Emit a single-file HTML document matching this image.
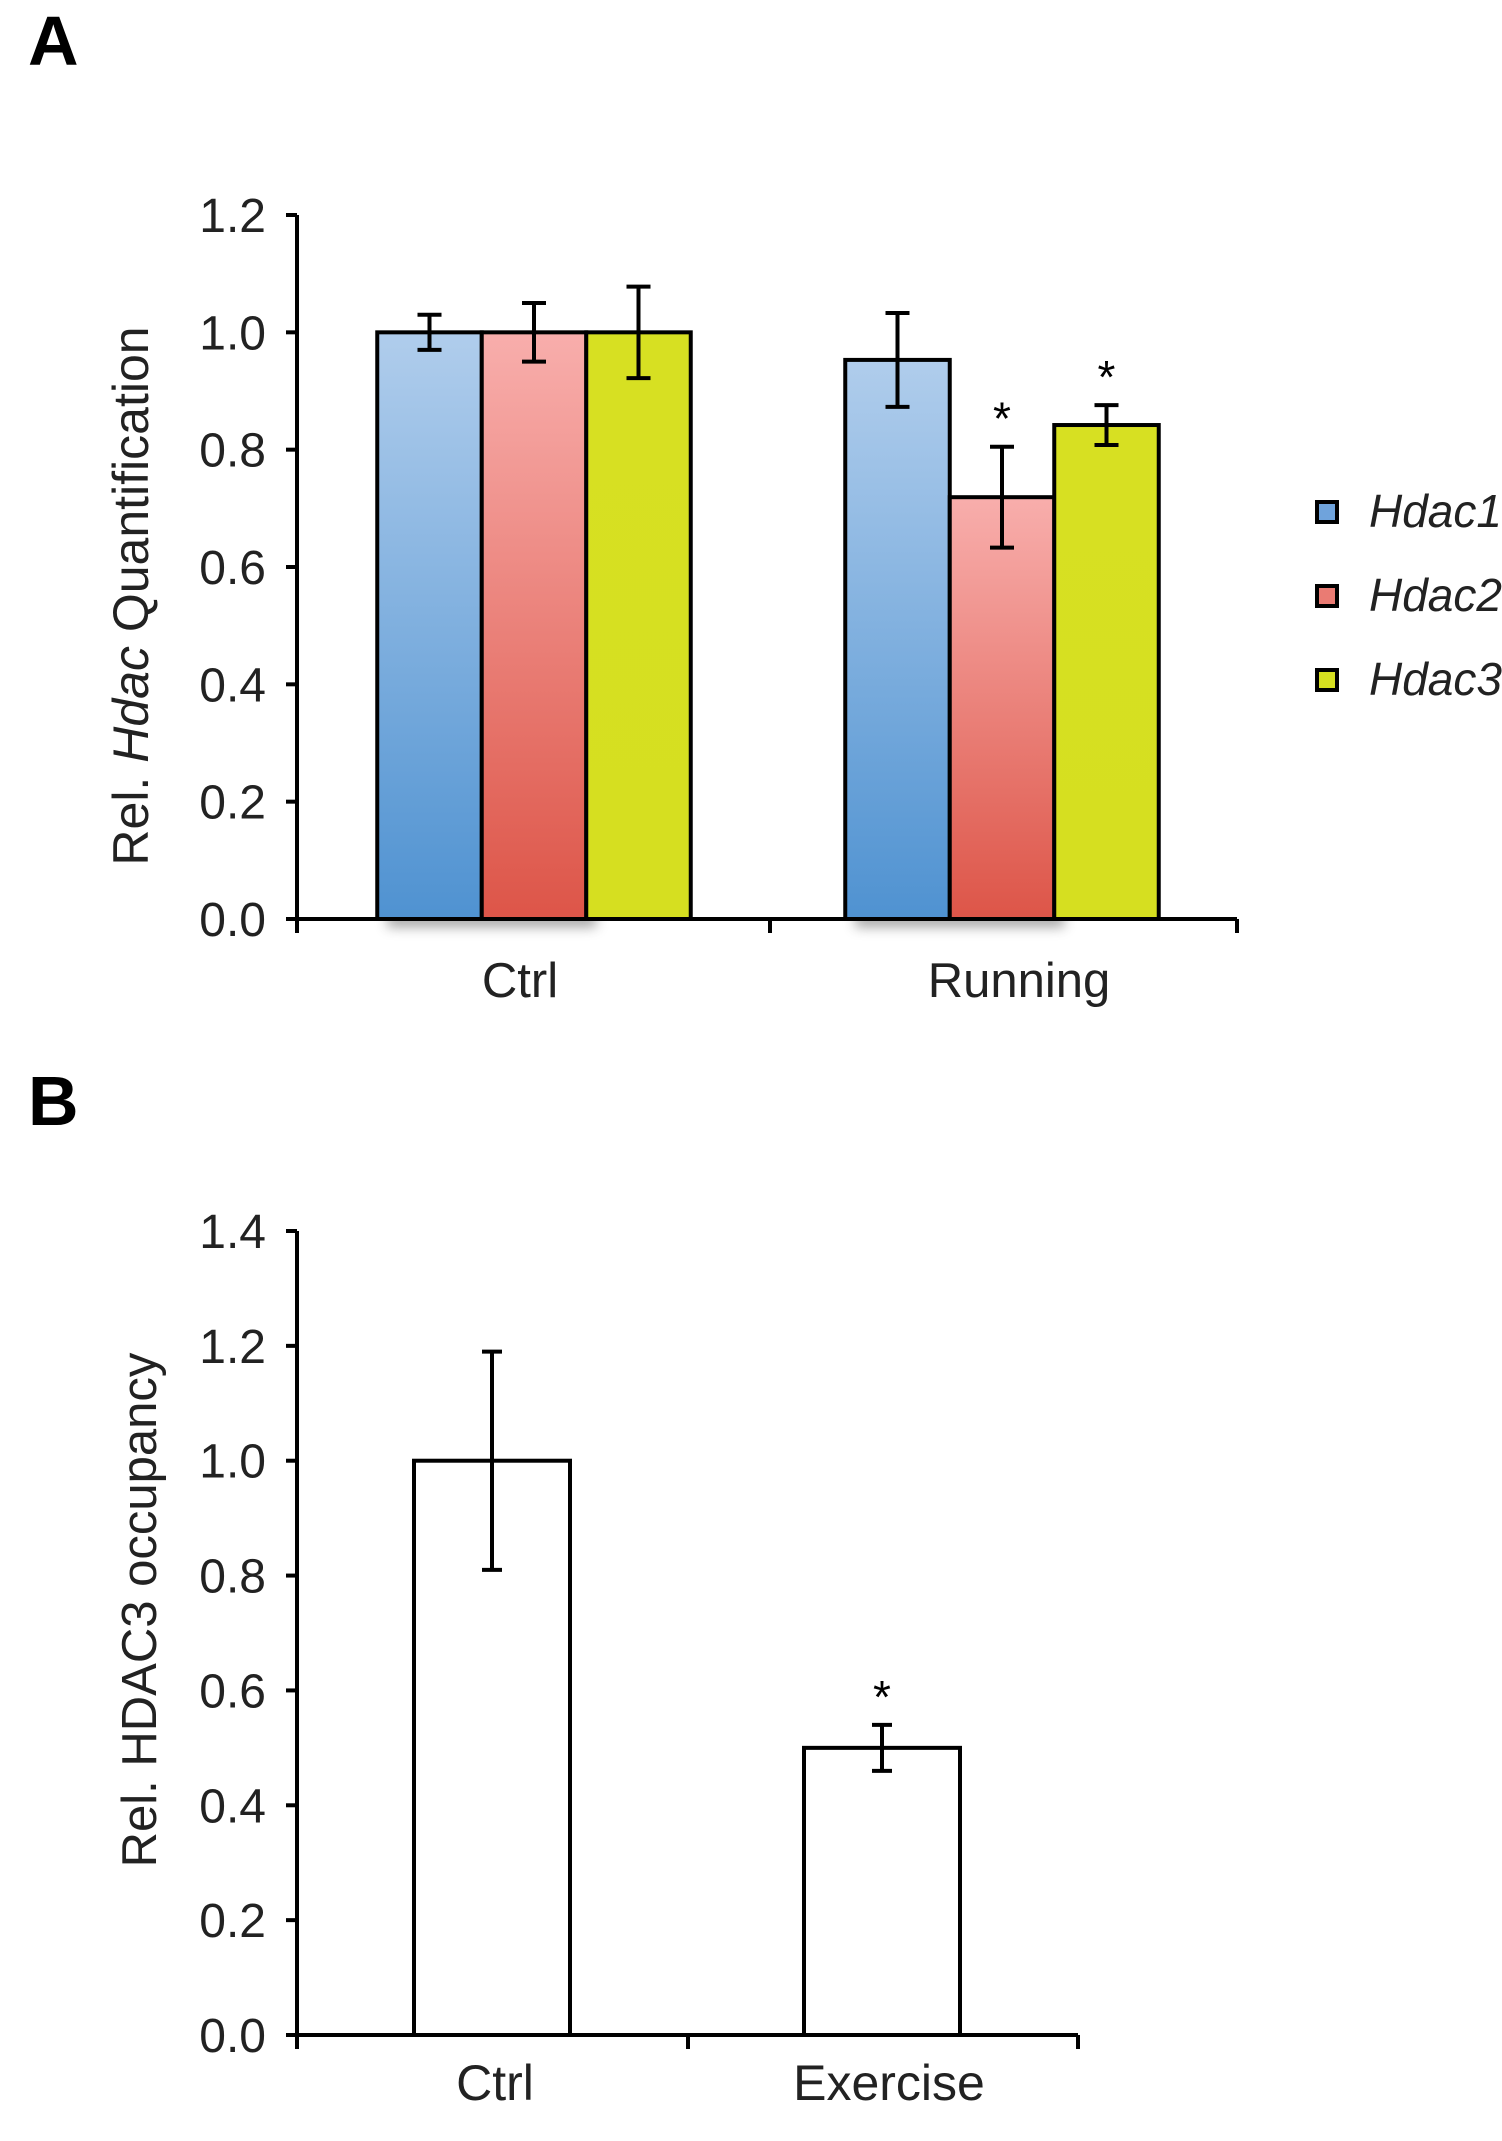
<!DOCTYPE html>
<html><head><meta charset="utf-8"><style>
html,body{margin:0;padding:0;background:#fff;}
svg{display:block;font-family:"Liberation Sans",Arial,sans-serif;}
</style></head><body>
<svg id="fig" width="1502" height="2141" viewBox="0 0 1502 2141" xmlns="http://www.w3.org/2000/svg">
<defs>
<linearGradient id="gBlue" x1="0" y1="0" x2="0" y2="1"><stop offset="0" stop-color="#b0cdec"/><stop offset="1" stop-color="#4f92d1"/></linearGradient>
<linearGradient id="gRed" x1="0" y1="0" x2="0" y2="1"><stop offset="0" stop-color="#f8aeac"/><stop offset="1" stop-color="#dd5548"/></linearGradient>
<linearGradient id="gGreen" x1="0" y1="0" x2="0" y2="1"><stop offset="0" stop-color="#d7e022"/><stop offset="1" stop-color="#d6df20"/></linearGradient>
<filter id="blur" x="-20%" y="-200%" width="140%" height="500%"><feGaussianBlur stdDeviation="6"/></filter>
</defs>
<text x="28" y="65" font-size="70" font-weight="bold">A</text>
<text x="28" y="1125" font-size="70" font-weight="bold">B</text>
<g id="chartA"></g>
<g id="chartB"></g>
</svg>
<script>
// Panel A data
const aCategories = ["Ctrl", "Running"];
const aSeries = ["Hdac1", "Hdac2", "Hdac3"];
const aHdac1 = [1.0, 0.953];
const aHdac2 = [1.0, 0.719];
const aHdac3 = [1.0, 0.842];
const aErr1 = [0.03, 0.08];
const aErr2 = [0.05, 0.086];
const aErr3 = [0.078, 0.034];
const aSig = [[false,false,false],[false,true,true]];
const aTicks = ["0.0","0.2","0.4","0.6","0.8","1.0","1.2"];
// Panel B data
const bCategories = ["Ctrl", "Exercise"];
const bValues = [1.0, 0.5];
const bErr = [0.19, 0.04];
const bSig = [false, true];
const bTicks = ["0.0","0.2","0.4","0.6","0.8","1.0","1.2","1.4"];

const NS="http://www.w3.org/2000/svg";
function mk(parent,tag,attrs,text){const e=document.createElementNS(NS,tag);for(const k in attrs)e.setAttribute(k,attrs[k]);if(text!==undefined)e.textContent=text;parent.appendChild(e);return e;}
const SW=4;

// ---- Panel A ----
(function(){
const g=document.getElementById('chartA');
const ax=297, y0=919, yTop=215, xEnd=1237, yMax=1.2;
const y=v=>y0-(v/yMax)*(y0-yTop);
const bw=104.5;
const gc=[534,1002];
const lc=[520,1019];
const fills=["url(#gBlue)","url(#gRed)","url(#gGreen)"];
const vals=[aHdac1,aHdac2,aHdac3], errs=[aErr1,aErr2,aErr3];
aCategories.forEach((c,i)=>{
  const left=gc[i]-1.5*bw;
  const s=mk(g,'rect',{x:left+10,y:y0-6,width:2*bw,height:14,fill:'#666',opacity:0.6,filter:'url(#blur)'});
  
  
});
aCategories.forEach((c,i)=>{
  aSeries.forEach((s,j)=>{
    const left=gc[i]-1.5*bw+j*bw;
    const v=vals[j][i];
    const r=mk(g,'rect',{x:left,y:y(v),width:bw,height:y0-y(v),fill:fills[j],stroke:'#000','stroke-width':SW});
    
    
    const mx=left+bw/2, e=errs[j][i];
    const eb=mk(g,'path',{d:`M${mx} ${y(v+e)}V${y(v-e)}M${mx-12} ${y(v+e)}H${mx+12}M${mx-12} ${y(v-e)}H${mx+12}`,stroke:'#000','stroke-width':SW,fill:'none'});
    
    
    if(aSig[i][j]){
      const st=mk(g,'text',{x:mx,y:y(v+e)-12,'font-size':46,'text-anchor':'middle'},'*');
      
      
    }
  });
  const t=mk(g,'text',{x:lc[i],y:997,'font-size':49,'text-anchor':'middle',fill:'#222'},c);
  
  
});
const axes=mk(g,'path',{d:`M${ax} ${yTop}V${y0}H${xEnd}`,stroke:'#000','stroke-width':SW,fill:'none'});


aTicks.forEach((t,k)=>{
  const v=k*0.2;
  mk(g,'line',{x1:ax-11,x2:ax,y1:y(v),y2:y(v),stroke:'#000','stroke-width':SW});
  const tl=mk(g,'text',{x:266,y:y(v)+17,'font-size':48,'text-anchor':'end',fill:'#222'},t);
  
  
});
[ax,770,xEnd].forEach(xx=>{
  mk(g,'line',{x1:xx,x2:xx,y1:y0,y2:y0+14,stroke:'#000','stroke-width':SW});
});
const yt=mk(g,'text',{transform:'translate(148,596) rotate(-90)','font-size':50,'text-anchor':'middle',fill:'#222'});


mk(yt,'tspan',{},'Rel. ');mk(yt,'tspan',{'font-style':'italic'},'Hdac');mk(yt,'tspan',{},' Quantification');
const lcol=["#6fa3dc","#ea7b73","#d6df20"];
const ly=[511,595,679];
aSeries.forEach((s,j)=>{
  const lg=mk(g,'g',{});
  
  
  mk(lg,'rect',{x:1317,y:ly[j]-9,width:20,height:20,fill:lcol[j],stroke:'#000','stroke-width':SW});
  mk(lg,'text',{x:1369,y:ly[j]+16,'font-size':46,'font-style':'italic',fill:'#222'},s);
});
})();

// ---- Panel B ----
(function(){
const g=document.getElementById('chartB');
const ax=297, y0=2035, yTop=1231, xEnd=1078, yMax=1.4;
const y=v=>y0-(v/yMax)*(y0-yTop);
const bw=156;
const bc=[492,882];
const lc=[495,889];
bCategories.forEach((c,i)=>{
  const v=bValues[i], e=bErr[i], mx=bc[i];
  const r=mk(g,'rect',{x:mx-bw/2,y:y(v),width:bw,height:y0-y(v),fill:'#fff',stroke:'#000','stroke-width':SW});
  
  
  const eb=mk(g,'path',{d:`M${mx} ${y(v+e)}V${y(v-e)}M${mx-10} ${y(v+e)}H${mx+10}M${mx-10} ${y(v-e)}H${mx+10}`,stroke:'#000','stroke-width':SW,fill:'none'});
  
  
  if(bSig[i]){
    const st=mk(g,'text',{x:mx,y:y(v+e)-12,'font-size':46,'text-anchor':'middle'},'*');
    
    
  }
  const t=mk(g,'text',{x:lc[i],y:2100,'font-size':50,'text-anchor':'middle',fill:'#222'},c);
  
  
});
const axes=mk(g,'path',{d:`M${ax} ${yTop}V${y0}H${xEnd}`,stroke:'#000','stroke-width':SW,fill:'none'});


bTicks.forEach((t,k)=>{
  const v=k*0.2;
  mk(g,'line',{x1:ax-11,x2:ax,y1:y(v),y2:y(v),stroke:'#000','stroke-width':SW});
  const tl=mk(g,'text',{x:266,y:y(v)+17,'font-size':48,'text-anchor':'end',fill:'#222'},t);
  
  
});
[ax,688,xEnd].forEach(xx=>{
  mk(g,'line',{x1:xx,x2:xx,y1:y0,y2:y0+14,stroke:'#000','stroke-width':SW});
});
const yt=mk(g,'text',{transform:'translate(156,1610) rotate(-90)','font-size':49,'text-anchor':'middle',fill:'#222'},'Rel. HDAC3 occupancy');


})();
</script>
</body></html>
